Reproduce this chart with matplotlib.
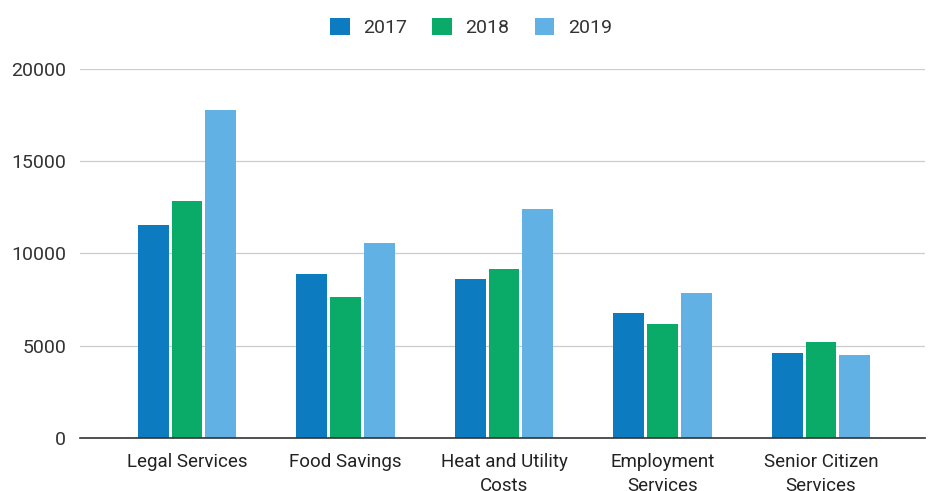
import numpy as np
import matplotlib.pyplot as plt

plt.rcParams['font.family'] = ['Roboto', 'DejaVu Sans']

categories = ['Legal Services', 'Food Savings', 'Heat and Utility\nCosts',
              'Employment\nServices', 'Senior Citizen\nServices']
years = ['2017', '2018', '2019']
v2017 = [11550, 8900, 8630, 6780, 4580]
v2018 = [12860, 7650, 9170, 6170, 5210]
v2019 = [17780, 10580, 12420, 7830, 4470]
colors = ['#0c7bbf', '#0aab69', '#62b1e4']

fig = plt.figure(figsize=(9.29, 4.91), dpi=100)
ax = fig.add_axes([80 / 929, 53.3 / 491, 845 / 929, 368.7 / 491])

x = np.arange(len(categories))
w = 0.195
step = 0.213
for i, (vals, yr) in enumerate(zip([v2017, v2018, v2019], years)):
    ax.bar(x + (i - 1) * step, vals, width=w, color=colors[i], label=yr, zorder=3)

ax.set_ylim(0, 20000)
ax.set_xlim(-0.675, 4.656)
ax.set_yticks([0, 5000, 10000, 15000, 20000])
ax.set_xticks(x)
ax.set_xticklabels(categories, fontsize=13.5, color='#222222', linespacing=1.45)
ax.tick_params(axis='y', labelsize=14, labelcolor='#333333', length=0, pad=10)
ax.tick_params(axis='x', length=0, pad=11)
ax.grid(axis='y', color='#cccccc', linewidth=0.9, zorder=0)
for s in ['top', 'right', 'left']:
    ax.spines[s].set_visible(False)
ax.spines['bottom'].set_color('#333333')
ax.spines['bottom'].set_linewidth(1.2)
ax.spines['bottom'].set_zorder(4)

fig.legend(loc='upper center', bbox_to_anchor=(0.507, 1.0), ncol=3, frameon=False,
           fontsize=14, handlelength=1.0, handleheight=1.0, handletextpad=0.7,
           columnspacing=1.3, labelcolor='#333333')

fig.savefig('out.png', dpi=100)
